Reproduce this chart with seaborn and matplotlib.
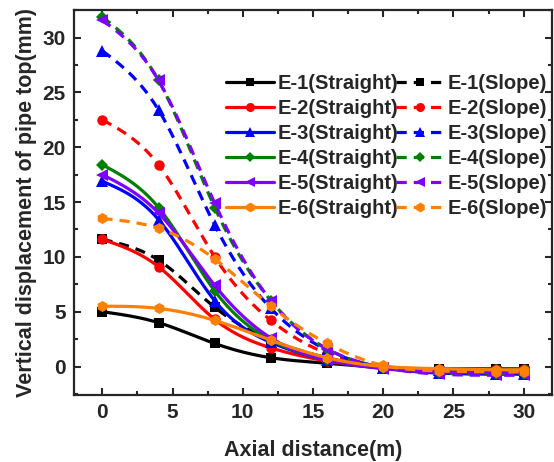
import numpy as np
import pandas as pd
import matplotlib
matplotlib.use("Agg")
import matplotlib.pyplot as plt
from matplotlib.lines import Line2D
from matplotlib.ticker import MultipleLocator
import seaborn as sns

# ---- data ----
x_pos = [0, 4, 8, 12, 16, 20, 24, 28, 30]
labels = ["E-1", "E-2", "E-3", "E-4", "E-5", "E-6"]
E1_straight = [5.0, 4.0, 2.1, 0.8, 0.3, -0.1, -0.2, -0.2, -0.2]
E1_slope    = [11.6, 9.7, 5.4, 2.4, 0.8, -0.1, -0.4, -0.5, -0.5]
E2_straight = [11.6, 9.1, 4.3, 1.7, 0.5, -0.1, -0.2, -0.2, -0.2]
E2_slope    = [22.5, 18.4, 10.0, 4.2, 1.2, 0.0, -0.5, -0.6, -0.6]
E3_straight = [16.9, 13.4, 6.0, 2.2, 0.6, -0.1, -0.3, -0.3, -0.3]
E3_slope    = [28.8, 23.4, 12.9, 5.3, 1.5, -0.1, -0.6, -0.7, -0.7]
E4_straight = [18.4, 14.5, 6.9, 2.4, 0.6, -0.1, -0.3, -0.3, -0.3]
E4_slope    = [31.9, 26.1, 14.5, 6.0, 1.6, -0.1, -0.6, -0.7, -0.7]
E5_straight = [17.5, 14.0, 7.4, 2.6, 0.6, -0.2, -0.5, -0.5, -0.5]
E5_slope    = [31.6, 26.1, 14.9, 6.0, 1.6, -0.1, -0.7, -0.8, -0.8]
E6_straight = [5.5, 5.3, 4.2, 2.4, 0.8, 0.0, -0.2, -0.3, -0.3]
E6_slope    = [13.5, 12.6, 9.8, 5.5, 2.1, 0.1, -0.4, -0.5, -0.5]

straight = [E1_straight, E2_straight, E3_straight, E4_straight, E5_straight, E6_straight]
slope = [E1_slope, E2_slope, E3_slope, E4_slope, E5_slope, E6_slope]
colors = ["#000000", "#FF0000", "#0000FF", "#008000", "#8000FF", "#FF8000"]
markers = ["s", "o", "^", "D", "<", "h"]
msizes = [6.5, 7.5, 8, 6.5, 8, 8]


def natural_spline(x, y, n=300):
    x = np.asarray(x, float)
    y = np.asarray(y, float)
    m = len(x)
    h = np.diff(x)
    A = np.zeros((m, m))
    b = np.zeros(m)
    A[0, 0] = 1
    A[-1, -1] = 1
    for i in range(1, m - 1):
        A[i, i - 1] = h[i - 1]
        A[i, i] = 2 * (h[i - 1] + h[i])
        A[i, i + 1] = h[i]
        b[i] = 6 * ((y[i + 1] - y[i]) / h[i] - (y[i] - y[i - 1]) / h[i - 1])
    M = np.linalg.solve(A, b)
    xs = np.linspace(x[0], x[-1], n)
    idx = np.clip(np.searchsorted(x, xs) - 1, 0, m - 2)
    x0, x1 = x[idx], x[idx + 1]
    hh = x1 - x0
    t0 = x1 - xs
    t1 = xs - x0
    ys = (M[idx] * t0 ** 3 / (6 * hh) + M[idx + 1] * t1 ** 3 / (6 * hh)
          + (y[idx] / hh - M[idx] * hh / 6) * t0
          + (y[idx + 1] / hh - M[idx + 1] * hh / 6) * t1)
    return xs, ys


sns.set_theme(style="ticks")
plt.rcParams["font.family"] = ["Liberation Sans", "DejaVu Sans"]
plt.rcParams["font.weight"] = "bold"

fig = plt.figure(figsize=(5.54, 4.62), dpi=100)
ax = fig.add_axes([0.134, 0.145, 0.862, 0.833])

dash = (0, (3.2, 2.2))
handles_s, handles_p = [], []
for i in range(6):
    for data, ls, store, kind in [(straight[i], "-", handles_s, "Straight"),
                                  (slope[i], dash, handles_p, "Slope")]:
        xs, ys = natural_spline(x_pos, data)
        df = pd.DataFrame({"x": xs, "y": ys})
        sns.lineplot(data=df, x="x", y="y", ax=ax, color=colors[i], lw=2.3,
                     sort=False)
        ax.lines[-1].set_linestyle(ls)
        ax.plot(x_pos, data, linestyle="none", marker=markers[i], color=colors[i],
                markersize=msizes[i], markeredgewidth=0)
        store.append(Line2D([], [], color=colors[i], lw=2.3, linestyle=ls,
                            marker=markers[i], markersize=msizes[i] - 1,
                            markeredgewidth=0,
                            label=f"{labels[i]}({kind})"))

ax.set_xlim(-2, 32)
ax.set_ylim(-2.6, 32.5)
ax.xaxis.set_major_locator(MultipleLocator(5))
ax.xaxis.set_minor_locator(MultipleLocator(2.5))
ax.yaxis.set_major_locator(MultipleLocator(5))
ax.yaxis.set_minor_locator(MultipleLocator(2.5))
ax.tick_params(which="both", direction="in", top=True, right=True, width=1.5,
               labelsize=15)
ax.tick_params(which="major", length=5, pad=6)
ax.tick_params(which="minor", length=3)
for lab in ax.get_xticklabels() + ax.get_yticklabels():
    lab.set_fontweight("bold")
for sp in ax.spines.values():
    sp.set_linewidth(1.6)

ax.set_xlabel("Axial distance(m)", fontsize=15.5, fontweight="bold", labelpad=13)
ax.set_ylabel("Vertical displacement of pipe top(mm)", fontsize=15.5,
              fontweight="bold", labelpad=4)

leg = ax.legend(handles=handles_s + handles_p, ncol=2, loc="upper right",
                bbox_to_anchor=(0.99, 0.835), frameon=False,
                prop={"weight": "bold", "size": 14.5},
                handlelength=2.4, handletextpad=0.15, columnspacing=-0.1,
                labelspacing=0.3, borderaxespad=0.0, borderpad=0.0)

fig.savefig("out.png", dpi=100)
